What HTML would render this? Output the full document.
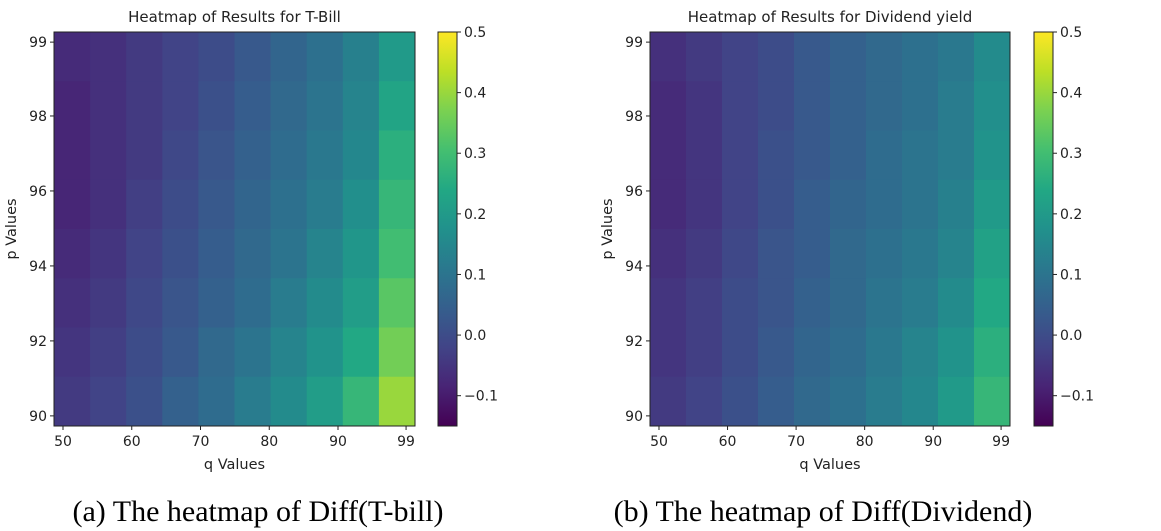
<!DOCTYPE html>
<html><head><meta charset="utf-8"><style>
body{margin:0;background:#fff;width:1161px;height:531px;overflow:hidden}
svg{display:block}
text{font-family:"DejaVu Sans","Liberation Sans",sans-serif;fill:#222}
.cap{font-family:"Liberation Serif",serif;font-size:30px;fill:#000}
</style></head><body>
<svg id="svg" width="1161" height="531" viewBox="0 0 1161 531"></svg>
<script>
const qTicks=[50,60,70,80,90,99.9];
const qTickLabels=["50","60","70","80","90","99"];
const pTicks=[90,92,94,96,98,99.97];
const pTickLabels=["90","92","94","96","98","99"];
const cbTicks=[-0.1,0.0,0.1,0.2,0.3,0.4,0.5];
const cbTickLabels=["\u22120.1","0.0","0.1","0.2","0.3","0.4","0.5"];
// coarse cell means, rows top (p high) -> bottom (p low), cols q low -> high
const tbillValues=[
[-0.07,-0.06,-0.04,-0.02,0.00,0.03,0.06,0.09,0.13,0.20],
[-0.08,-0.06,-0.04,-0.02,0.01,0.04,0.07,0.10,0.14,0.23],
[-0.08,-0.06,-0.04,-0.01,0.02,0.05,0.08,0.11,0.15,0.26],
[-0.08,-0.06,-0.03,0.00,0.03,0.06,0.09,0.12,0.17,0.28],
[-0.07,-0.05,-0.02,0.01,0.04,0.07,0.10,0.14,0.19,0.30],
[-0.06,-0.04,-0.01,0.02,0.05,0.08,0.12,0.16,0.21,0.33],
[-0.05,-0.03,0.00,0.03,0.07,0.10,0.14,0.18,0.24,0.36],
[-0.04,-0.02,0.01,0.05,0.08,0.12,0.16,0.21,0.28,0.40]];
const dividendValues=[
[-0.06,-0.04,-0.02,0.00,0.03,0.05,0.07,0.09,0.11,0.16],
[-0.07,-0.05,-0.02,0.00,0.03,0.05,0.07,0.09,0.12,0.17],
[-0.07,-0.05,-0.02,0.01,0.03,0.05,0.08,0.10,0.12,0.18],
[-0.07,-0.05,-0.02,0.01,0.04,0.06,0.08,0.10,0.13,0.20],
[-0.06,-0.04,-0.01,0.02,0.04,0.07,0.09,0.11,0.14,0.22],
[-0.05,-0.03,0.00,0.02,0.05,0.07,0.10,0.12,0.16,0.24],
[-0.05,-0.03,0.00,0.03,0.06,0.08,0.11,0.14,0.18,0.26],
[-0.04,-0.02,0.01,0.04,0.07,0.09,0.12,0.15,0.20,0.28]];
const titles=["Heatmap of Results for T-Bill","Heatmap of Results for Dividend yield"];
const captions=["(a) The heatmap of Diff(T-bill)","(b) The heatmap of Diff(Dividend)"];

const NS="http://www.w3.org/2000/svg";
const svg=document.getElementById('svg');
const stops=["#440154","#482475","#414487","#355f8d","#2a788e","#21918c","#22a884","#44bf70","#7ad151","#bddf26","#fde725"];
function hex(h){return [1,3,5].map(i=>parseInt(h.substr(i,2),16));}
function viridis(t){t=Math.max(0,Math.min(1,t));const f=t*10,i=Math.min(9,Math.floor(f)),r=f-i;const a=hex(stops[i]),b=hex(stops[i+1]);return `rgb(${a.map((v,k)=>Math.round(v+(b[k]-v)*r)).join(',')})`;}
const VMIN=-0.15,VMAX=0.5;
function el(tag,attrs,parent){const e=document.createElementNS(NS,tag);for(const k in attrs)e.setAttribute(k,attrs[k]);(parent||svg).appendChild(e);return e;}
function draw(idx,values,L){
  const g=el('g',{});
  
  
  const x0=L.x0,x1=L.x1,y0=32,y1=426;
  const qMin=48.69,qMax=101.2,pMin=89.73,pMax=100.24;
  const xs=q=>x0+(q-qMin)/(qMax-qMin)*(x1-x0);
  const ys=p=>y1-(p-pMin)/(pMax-pMin)*(y1-y0);
  const rows=values.length,cols=values[0].length;
  const cw=(x1-x0)/cols,ch=(y1-y0)/rows;
  values.forEach((row,r)=>row.forEach((v,c)=>{
    const rc=el('rect',{x:x0+c*cw,y:y0+r*ch,width:cw+0.5,height:ch+0.5,fill:viridis((v-VMIN)/(VMAX-VMIN))},g);
    
    
  }));
  el('rect',{x:x0,y:y0,width:x1-x0,height:y1-y0,fill:'none',stroke:'#222','stroke-width':1},g);
  qTicks.forEach((q,i)=>{const x=xs(q);el('line',{x1:x,x2:x,y1:y1,y2:y1+4,stroke:'#222'},g);
    const t=el('text',{x:x,y:y1+20,'text-anchor':'middle','font-size':14},g);t.textContent=qTickLabels[i];
    });
  pTicks.forEach((p,i)=>{const y=ys(p);el('line',{x1:x0-4,x2:x0,y1:y,y2:y,stroke:'#222'},g);
    const t=el('text',{x:x0-7,y:y+5,'text-anchor':'end','font-size':14},g);t.textContent=pTickLabels[i];
    });
  let t=el('text',{x:(x0+x1)/2,y:22,'text-anchor':'middle','font-size':15},g);t.textContent=titles[idx];
  
  t=el('text',{x:(x0+x1)/2,y:469,'text-anchor':'middle','font-size':14.5},g);t.textContent='q Values';
  
  const yl=x0-38;
  t=el('text',{x:yl,y:(y0+y1)/2,'text-anchor':'middle','font-size':14.5,transform:`rotate(-90 ${yl} ${(y0+y1)/2})`},g);t.textContent='p Values';
  
  // colorbar
  const cx0=L.cb,cx1=L.cb+19;const cys=v=>y1-(v-VMIN)/(VMAX-VMIN)*(y1-y0);
  const gid='grad'+idx;const defs=el('defs',{},g);const lg=el('linearGradient',{id:gid,x1:0,y1:1,x2:0,y2:0},defs);
  stops.forEach((s,i)=>el('stop',{offset:i/10,'stop-color':s},lg));
  const cb=el('rect',{x:cx0,y:y0,width:cx1-cx0,height:y1-y0,fill:`url(#${gid})`,stroke:'#222','stroke-width':1},g);
  
  cbTicks.forEach((v,i)=>{const y=cys(v);el('line',{x1:cx1,x2:cx1+4,y1:y,y2:y,stroke:'#222'},g);
    const tt=el('text',{x:cx1+7,y:y+5,'font-size':14},g);tt.textContent=cbTickLabels[i];
    });
  t=el('text',{x:L.capX,y:521,'text-anchor':'middle',class:'cap'},g);t.textContent=captions[idx];
  
}
draw(0,tbillValues,{x0:54,x1:415,cb:438,capX:258});
draw(1,dividendValues,{x0:650,x1:1010,cb:1034,capX:823});
</script>
</body></html>
